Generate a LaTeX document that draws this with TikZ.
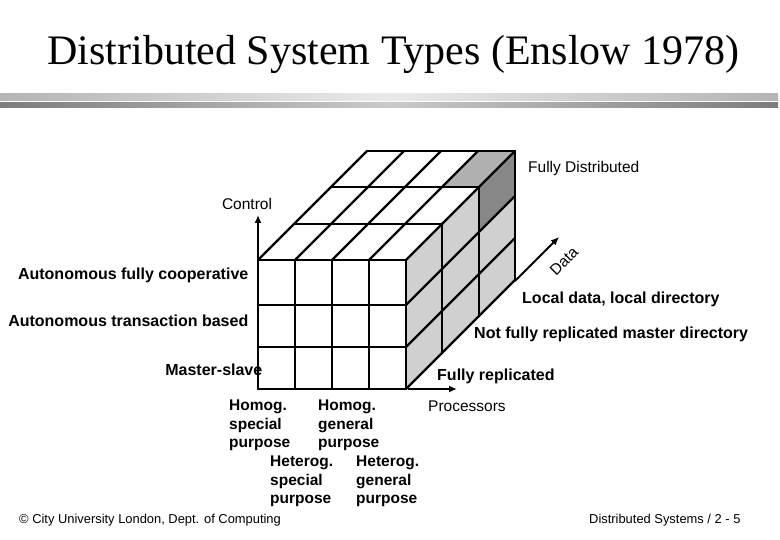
\documentclass[tikz,border=0pt]{standalone}
\usepackage{fontspec}
\setmainfont{Liberation Sans}
\newfontfamily\titlefont{Liberation Serif}
\usetikzlibrary{arrows.meta}
\definecolor{lightface}{HTML}{D0D0D0}
\definecolor{topgray}{HTML}{B0B0B0}
\definecolor{darkface}{HTML}{888888}
\definecolor{barA}{HTML}{B4B4B4}
\definecolor{barAc}{HTML}{EAEAEA}
\definecolor{barB}{HTML}{7C7C7C}
\definecolor{barBc}{HTML}{CACACA}
\begin{document}
\begin{tikzpicture}[x=1pt,y=-1pt,
  lab/.style={font=\fontsize{15.5}{18}\selectfont, inner sep=0pt},
  blab/.style={font=\bfseries\fontsize{15.5}{18}\selectfont, inner sep=0pt},
  wlab/.style={font=\bfseries\fontsize{16}{18}\selectfont, inner sep=0pt},
  foot/.style={font=\fontsize{12.9}{15}\selectfont, inner sep=0pt},
  gridline/.style={line width=2.2pt, line cap=round},
  axis/.style={line width=2pt, -{Latex[length=8pt,width=7pt]}}
]
\useasboundingbox (0,0) rectangle (780,540);
% title and bars
\node[anchor=base, inner sep=0pt, font=\titlefont\fontsize{42}{48}\selectfont] (title) at (393.5,65) {Distributed System Types (Enslow 1978)};
\shade[left color=barA, right color=barA, middle color=barAc] (0,94) rectangle (778,101);
\shade[left color=barB, right color=barB, middle color=barBc] (0,103) rectangle (778,107.5);
% cube fills
\fill[lightface] (406,260) -- (515,151) -- (515,280) -- (406,389) -- cycle;
\fill[topgray] (441.67,187.33) -- (478.67,187.33) -- (515,151) -- (478,151) -- cycle;
\fill[darkface] (478.67,187.33) -- (515,151) -- (515,196) -- (478.67,232.33) -- cycle;
% front face
\foreach \x in {258,295,332,369,406} \draw[gridline] (\x,260) -- (\x,389);
\foreach \y in {260,305,347,389} \draw[gridline] (258,\y) -- (406,\y);
% top face
\foreach \x in {258,295,332,369,406} \draw[gridline] (\x,260) -- ++(109,-109);
\foreach \k in {1,2,3} \draw[gridline] (258+\k*36.333,260-\k*36.333) -- ++(148,0);
% right face
\foreach \k in {1,2,3} \draw[gridline] (406+\k*36.333,260-\k*36.333) -- ++(0,129);
\foreach \y in {305,347,389} \draw[gridline] (406,\y) -- ++(109,-109);
% axes
\coordinate (ctrl0) at (258,260);
\coordinate (ctrl1) at (258,215);
\coordinate (proc0) at (408,389);
\coordinate (proc1) at (457,389);
\coordinate (data0) at (515,281);
\coordinate (data1) at (559,237);
\draw[axis] (ctrl0) -- (ctrl1);
\draw[axis] (proc0) -- (proc1);
\draw[axis] (data0) -- (data1);
% axis labels
\node[lab, anchor=base] (control) at (247,209.3) {Control};
\node[lab, anchor=base west] (processors) at (428,411.7) {Processors};
\node[lab, rotate=45] (data) at (564,261) {Data};
\node[lab, anchor=base west] (fulldist) at (528,172.7) {Fully Distributed};
% control labels
\node[wlab, anchor=base east] (afc) at (248.5,279.3) {Autonomous fully cooperative};
\node[wlab, anchor=base east] (atb) at (248.5,326.7) {Autonomous transaction based};
\node[wlab, anchor=base east] (ms) at (262.5,375) {Master-slave};
% data labels
\node[wlab, anchor=base west] (ldld) at (522,303.3) {Local data, local directory};
\node[wlab, anchor=base west] (nfr) at (474,338.3) {Not fully replicated master directory};
\node[wlab, anchor=base west] (fr) at (437,380.7) {Fully replicated};
% processor labels
\node[blab, anchor=base west] (hs1) at (229,410.7) {Homog.};
\node[blab, anchor=base west] (hs2) at (229,429) {special};
\node[blab, anchor=base west] (hs3) at (229,447.3) {purpose};
\node[blab, anchor=base west] (hg1) at (318,410.7) {Homog.};
\node[blab, anchor=base west] (hg2) at (318,429) {general};
\node[blab, anchor=base west] (hg3) at (318,447.3) {purpose};
\node[blab, anchor=base west] (es1) at (270,466.7) {Heterog.};
\node[blab, anchor=base west] (es2) at (270,485) {special};
\node[blab, anchor=base west] (es3) at (270,503.3) {purpose};
\node[blab, anchor=base west] (eg1) at (356,466.7) {Heterog.};
\node[blab, anchor=base west] (eg2) at (356,485) {general};
\node[blab, anchor=base west] (eg3) at (356,503.3) {purpose};
% footer
\node[foot, anchor=base west] (foot1) at (19,523) {© City University London, Dept. of Computing};
\node[foot, anchor=base west] (foot2) at (589,523) {Distributed Systems / 2 - 5};
\end{tikzpicture}
\end{document}
